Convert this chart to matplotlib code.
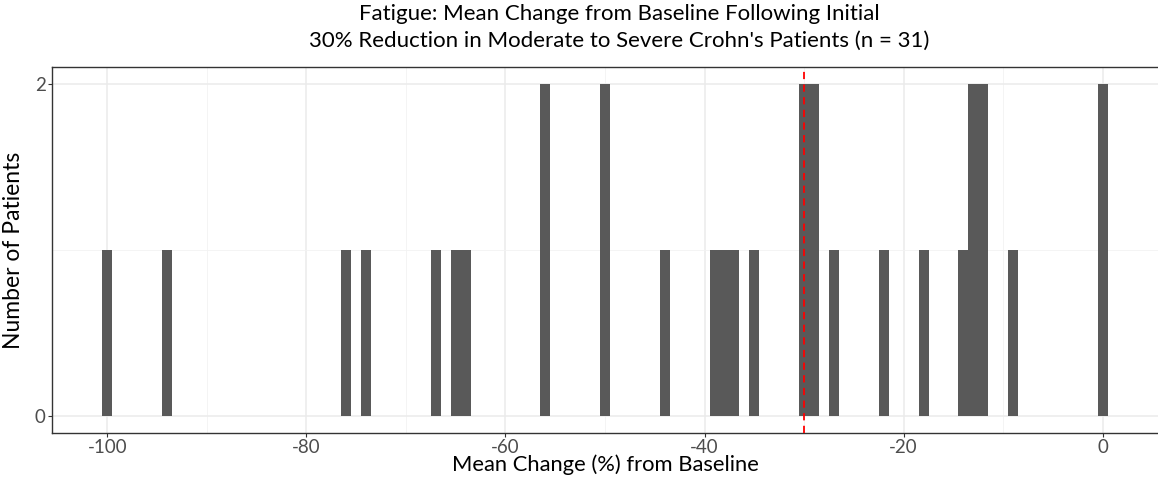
import numpy as np
import matplotlib
matplotlib.use("Agg")
import matplotlib.pyplot as plt

# Individual patient values (mean % change from baseline), n = 31
change_values = [-100, -94, -76, -74, -67, -65, -64, -56, -56, -50, -50,
                 -44, -39, -38, -37, -35, -30, -30, -29, -29, -27, -22,
                 -18, -14, -13, -13, -12, -12, -9, 0, 0]
threshold = -30
x_ticks = [-100, -80, -60, -40, -20, 0]
y_ticks = [0, 2]

title = ("Fatigue: Mean Change from Baseline Following Initial\n"
         "30% Reduction in Moderate to Severe Crohn's Patients (n = 31)")
x_label = "Mean Change (%) from Baseline"
y_label = "Number of Patients"

plt.rcParams['font.family'] = ['Lato', 'DejaVu Sans']
plt.rcParams['axes.unicode_minus'] = False

W, H = 1158, 480
fig = plt.figure(figsize=(W / 100, H / 100), dpi=100)
ax = fig.add_axes([52 / W, 1 - 433 / H, (1158 - 52) / W, (433 - 67) / H])

bins = np.arange(-100.5, 1.5, 1.0)
ax.hist(change_values, bins=bins, color="#595959", edgecolor="none", zorder=3)
ax.axvline(threshold, color="#FF0000", linestyle=(0, (4, 3)), linewidth=1.3, zorder=4)

ax.set_xlim(-105.55, 5.55)
ax.set_ylim(-0.1, 2.1)
ax.set_xticks(x_ticks)
ax.set_xticks(np.arange(-90, 10, 20), minor=True)
ax.set_yticks(y_ticks)
ax.set_yticks([1], minor=True)
ax.grid(True, which="major", color="#EBEBEB", linewidth=1.1, zorder=0)
ax.grid(True, which="minor", color="#F2F2F2", linewidth=0.6, zorder=0)
ax.set_axisbelow(True)

ax.tick_params(axis="both", which="major", length=3, width=0.8, color="#333333",
               labelcolor="#4D4D4D", labelsize=13.5, pad=1.5)
ax.tick_params(axis="both", which="minor", length=0)
for s in ["left", "bottom", "top"]:
    ax.spines[s].set_color("#333333")
    ax.spines[s].set_linewidth(1.0)
ax.spines["right"].set_visible(False)

ax.set_xlabel(x_label, fontsize=15.8, color="black", labelpad=-1)
ax.set_ylabel(y_label, fontsize=16.5, color="black", labelpad=8)
fig.text(619 / W, 1 - 4 / H, title, ha="center", va="top", fontsize=16,
         color="black", linespacing=1.4)

fig.savefig("out.png", dpi=100)
